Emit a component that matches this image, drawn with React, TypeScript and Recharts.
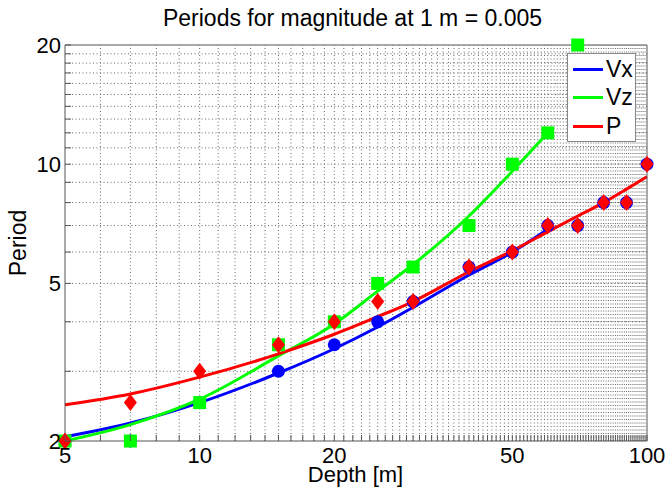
import { ComposedChart, Line, Scatter, XAxis, YAxis, ReferenceLine } from "recharts";

// measured periods per depth
const depthVx = [5, 7, 10, 15, 20, 25, 30, 40, 50, 60, 70, 80, 90, 100];
const periodVx = [2, 2, 2.5, 3, 3.5, 4, 4.5, 5.5, 6, 7, 7, 8, 8, 10];
const depthVz = [5, 7, 10, 15, 20, 25, 30, 40, 50, 60, 70];
const periodVz = [2, 2, 2.5, 3.5, 4, 5, 5.5, 7, 10, 12, 20];
const depthP = [5, 7, 10, 15, 20, 25, 30, 40, 50, 60, 70, 80, 90, 100];
const periodP = [2, 2.5, 3, 3.5, 4, 4.5, 4.5, 5.5, 6, 7, 7, 8, 8, 10];

// fitted curves
const fitDepthVx = [5, 7, 10, 15, 20, 25, 30, 40, 50, 60];
const fitVx = [2.05, 2.22, 2.5, 2.97, 3.42, 3.88, 4.35, 5.25, 6.0, 6.85];
const fitDepthVz = [5, 7, 10, 15, 20, 25, 30, 40, 50, 60];
const fitVz = [2.0, 2.2, 2.55, 3.28, 3.95, 4.78, 5.58, 7.4, 9.6, 12.0];
const fitDepthP = [5, 7, 10, 15, 20, 25, 30, 40, 50, 60, 70, 80, 90, 100];
const fitP = [2.47, 2.63, 2.9, 3.32, 3.72, 4.12, 4.5, 5.35, 6.05, 6.75, 7.4, 8.0, 8.65, 9.3];

const xMajor = [5, 10, 20, 50, 100];
const yMajor = [2, 5, 10, 20];
const xMinor = Array.from({ length: 96 }, (_, i) => i + 5); // 5..100
const yMinor = Array.from({ length: 19 }, (_, i) => i + 2); // 2..20

const toPts = (xs: number[], ys: number[]) => xs.map((x, i) => ({ x, y: ys[i] }));

const FONT = "'Liberation Sans', Arial, Helvetica, sans-serif";
const TICK_LEN = 6;
const FRAME = "#555";
const GRID = "#666";

function BottomTick(props: any) {
  const { x, y, payload } = props;
  const major = xMajor.includes(payload.value);
  return (
    <g>
      <line x1={x} x2={x} y1={y} y2={y - TICK_LEN} stroke={FRAME} />
      {major && (
        <text x={x} y={y + 22} textAnchor="middle" fontSize={22} fontFamily={FONT} fill="#000">
          {payload.value}
        </text>
      )}
    </g>
  );
}

function TopTick(props: any) {
  const { x, y } = props;
  return <line x1={x} x2={x} y1={y} y2={y + TICK_LEN} stroke={FRAME} />;
}

function LeftTick(props: any) {
  const { x, y, payload } = props;
  const major = yMajor.includes(payload.value);
  return (
    <g>
      <line x1={x} x2={x + TICK_LEN} y1={y} y2={y} stroke={FRAME} />
      {major && (
        <text x={x - 4} y={y + 8} textAnchor="end" fontSize={22} fontFamily={FONT} fill="#000">
          {payload.value}
        </text>
      )}
    </g>
  );
}

function RightTick(props: any) {
  const { x, y } = props;
  return <line x1={x} x2={x - TICK_LEN} y1={y} y2={y} stroke={FRAME} />;
}

const circle = (p: any) => <circle cx={p.cx} cy={p.cy} r={6.5} fill="#0000ff" />;
const square = (p: any) => <rect x={p.cx - 6.5} y={p.cy - 6.5} width={13} height={13} fill="#00ff00" />;
const diamond = (p: any) => (
  <polygon
    points={`${p.cx},${p.cy - 8.5} ${p.cx + 6.5},${p.cy} ${p.cx},${p.cy + 8.5} ${p.cx - 6.5},${p.cy}`}
    fill="#ff0000"
  />
);

const legendItems = [
  { name: "Vx", color: "#0000ff" },
  { name: "Vz", color: "#00ff00" },
  { name: "P", color: "#ff0000" },
];

function LegendBox() {
  return (
    <div
      style={{
        position: "absolute",
        left: 567,
        top: 53,
        width: 69,
        height: 89,
        background: "#fff",
        border: "1px solid #888",
        fontFamily: FONT,
        fontSize: 23,
        boxSizing: "border-box",
        paddingTop: 1,
      }}
    >
      {legendItems.map((it) => (
        <div key={it.name} style={{ display: "flex", alignItems: "center", height: 28.5 }}>
          <div style={{ width: 30, height: 3, background: it.color, marginLeft: 5, marginRight: 3 }} />
          <span>{it.name}</span>
        </div>
      ))}
    </div>
  );
}

export default function App() {
  const gridX = xMinor.filter((v) => v > 5 && v < 100);
  const gridY = yMinor.filter((v) => v > 2 && v < 20);
  return (
    <div style={{ position: "absolute", left: 0, top: 0, width: 665, height: 493, background: "#fff", fontFamily: FONT }}>
      <div style={{ position: "absolute", left: 0, width: 665, top: 5, textAlign: "center", fontSize: 23, paddingLeft: 40, boxSizing: "border-box" }}>
        Periods for magnitude at 1 m = 0.005
      </div>
      <div style={{ position: "absolute", left: 0, width: 665, top: 462, textAlign: "center", fontSize: 22, paddingLeft: 46, boxSizing: "border-box" }}>
        Depth [m]
      </div>
      <div
        style={{
          position: "absolute",
          left: 18,
          top: 243,
          fontSize: 23,
          transform: "translate(-50%, -50%) rotate(-90deg)",
          whiteSpace: "nowrap",
        }}
      >
        Period
      </div>
      <ComposedChart width={665} height={493} margin={{ top: 44, right: 17, bottom: 22, left: 25 }}>
        <XAxis
          dataKey="x"
          type="number"
          scale="log"
          domain={[5, 100]}
          ticks={xMinor}
          interval={0}
          height={30}
          tickSize={0}
          tickMargin={0}
          tickLine={false}
          axisLine={{ stroke: FRAME }}
          tick={<BottomTick />}
        />
        <XAxis
          xAxisId="top"
          orientation="top"
          type="number"
          scale="log"
          domain={[5, 100]}
          ticks={xMinor}
          interval={0}
          height={1}
          tickSize={0}
          tickMargin={0}
          tickLine={false}
          axisLine={{ stroke: FRAME }}
          tick={<TopTick />}
        />
        <YAxis
          type="number"
          scale="log"
          domain={[2, 20]}
          ticks={yMinor}
          interval={0}
          width={40}
          tickSize={0}
          tickMargin={0}
          tickLine={false}
          axisLine={{ stroke: FRAME }}
          tick={<LeftTick />}
        />
        <YAxis
          yAxisId="right"
          orientation="right"
          type="number"
          scale="log"
          domain={[2, 20]}
          ticks={yMinor}
          interval={0}
          width={1}
          tickSize={0}
          tickMargin={0}
          tickLine={false}
          axisLine={{ stroke: FRAME }}
          tick={<RightTick />}
        />
        {gridX.map((v) => (
          <ReferenceLine key={`gx${v}`} x={v} stroke={GRID} strokeDasharray="1 2.5" ifOverflow="hidden" />
        ))}
        {gridY.map((v) => (
          <ReferenceLine key={`gy${v}`} y={v} stroke={GRID} strokeDasharray="1 2.5" ifOverflow="hidden" />
        ))}
        <Line data={toPts(fitDepthVx, fitVx)} dataKey="y" type="monotone" stroke="#0000ff" strokeWidth={3} dot={false} isAnimationActive={false} />
        <Line data={toPts(fitDepthVz, fitVz)} dataKey="y" type="monotone" stroke="#00ff00" strokeWidth={3} dot={false} isAnimationActive={false} />
        <Line data={toPts(fitDepthP, fitP)} dataKey="y" type="monotone" stroke="#ff0000" strokeWidth={3} dot={false} isAnimationActive={false} />
        <Scatter data={toPts(depthVx, periodVx)} dataKey="y" shape={circle} isAnimationActive={false} />
        <Scatter data={toPts(depthVz, periodVz)} dataKey="y" shape={square} isAnimationActive={false} />
        <Scatter data={toPts(depthP, periodP)} dataKey="y" shape={diamond} isAnimationActive={false} />
      </ComposedChart>
      <LegendBox />
    </div>
  );
}
